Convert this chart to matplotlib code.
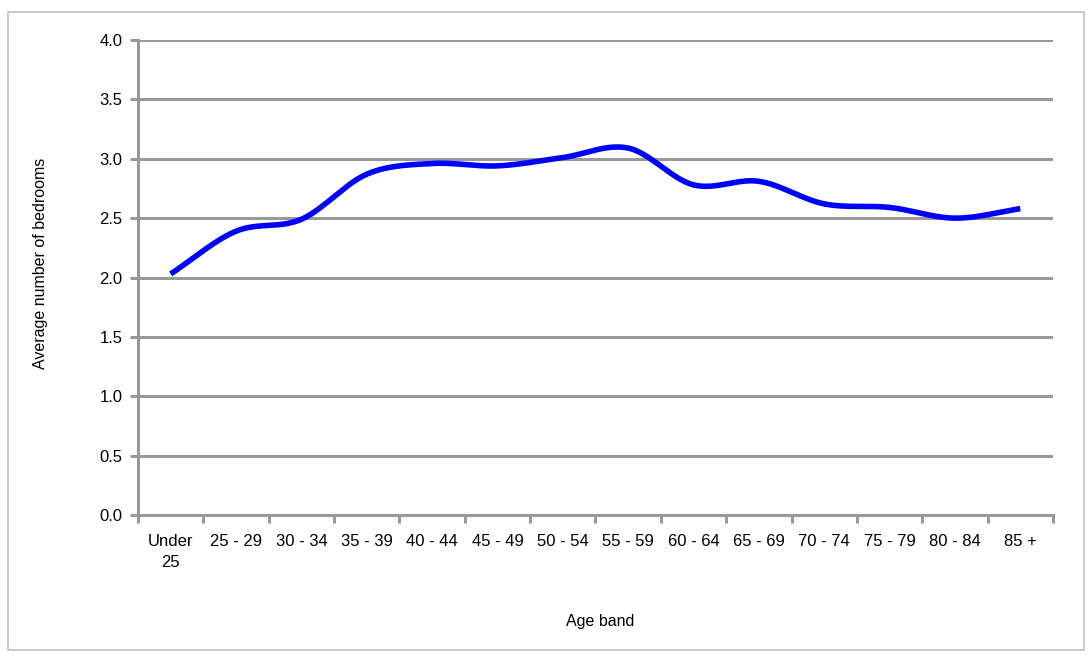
import numpy as np
import matplotlib
matplotlib.use("Agg")
import matplotlib.pyplot as plt
from matplotlib.patches import Rectangle

plt.rcParams['font.family'] = ['Liberation Sans', 'DejaVu Sans']

age_bands = ["Under\n25", "25 - 29", "30 - 34", "35 - 39", "40 - 44", "45 - 49", "50 - 54",
             "55 - 59", "60 - 64", "65 - 69", "70 - 74", "75 - 79", "80 - 84", "85 +"]
bedrooms = [2.03, 2.39, 2.49, 2.87, 2.96, 2.94, 3.01, 3.09, 2.78, 2.81, 2.62, 2.59, 2.50, 2.58]
y_ticks = [0.0, 0.5, 1.0, 1.5, 2.0, 2.5, 3.0, 3.5, 4.0]

grid_col = "#999999"


def smooth(x, y, n=30):
    # catmull-rom style smoothing like excel's smoothed line
    x = np.asarray(x, float)
    y = np.asarray(y, float)
    px = np.concatenate([[2 * x[0] - x[1]], x, [2 * x[-1] - x[-2]]])
    py = np.concatenate([[2 * y[0] - y[1]], y, [2 * y[-1] - y[-2]]])
    xs, ys = [], []
    t = np.linspace(0, 1, n)
    for i in range(1, len(px) - 2):
        p0, p1, p2, p3 = py[i - 1], py[i], py[i + 1], py[i + 2]
        q0, q1, q2, q3 = px[i - 1], px[i], px[i + 1], px[i + 2]
        ys.append(0.5 * (2 * p1 + (-p0 + p2) * t + (2 * p0 - 5 * p1 + 4 * p2 - p3) * t ** 2
                         + (-p0 + 3 * p1 - 3 * p2 + p3) * t ** 3))
        xs.append(0.5 * (2 * q1 + (-q0 + q2) * t + (2 * q0 - 5 * q1 + 4 * q2 - q3) * t ** 2
                         + (-q0 + 3 * q1 - 3 * q2 + q3) * t ** 3))
    return np.concatenate(xs), np.concatenate(ys)


fig = plt.figure(figsize=(10.92, 6.58), dpi=100)
fig.patches.append(Rectangle((8 / 1092, 8 / 658), 1076 / 1092, 638 / 658, transform=fig.transFigure,
                             fill=False, edgecolor="#c0c0c0", linewidth=1.2))

ax = fig.add_axes([138 / 1092, 1 - 515 / 658, (1053 - 138) / 1092, (515 - 40) / 658])

x = np.arange(len(age_bands))
sx, sy = smooth(x, bedrooms)
ax.plot(sx, sy, color="#0000ff", linewidth=4.0, solid_capstyle="butt", zorder=3)

ax.set_ylim(0, 4)
ax.set_xlim(-0.5, 13.28)
ax.set_yticks(y_ticks)
ax.set_yticklabels([f"{v:.1f}" for v in y_ticks])
ax.yaxis.grid(True, color=grid_col, linewidth=2.2)
ax.set_axisbelow(True)

ax.set_xticks(np.arange(len(age_bands) + 1) - 0.5, minor=False)
ax.set_xticklabels([])
ax.set_xticks(x, minor=True)
ax.set_xticklabels(age_bands, minor=True, fontsize=12, linespacing=1.5)
ax.tick_params(axis="x", which="minor", length=0, pad=14)
ax.tick_params(axis="x", which="major", length=6, width=2.2, color=grid_col)
ax.tick_params(axis="y", length=6, width=2.2, color=grid_col, labelsize=12, pad=5)

for s in ["top", "right"]:
    ax.spines[s].set_visible(False)
for s in ["left", "bottom"]:
    ax.spines[s].set_color(grid_col)
    ax.spines[s].set_linewidth(2.2)

ax.set_ylabel("Average number of bedrooms", fontsize=11.5)
ax.yaxis.set_label_coords((48 - 138) / 915, (515 - 263) / 475)
ax.set_xlabel("Age band", fontsize=11.5)
ax.xaxis.set_label_coords((600 - 138) / 915, (515 - 614) / 475)

fig.savefig("out.png", dpi=100)
